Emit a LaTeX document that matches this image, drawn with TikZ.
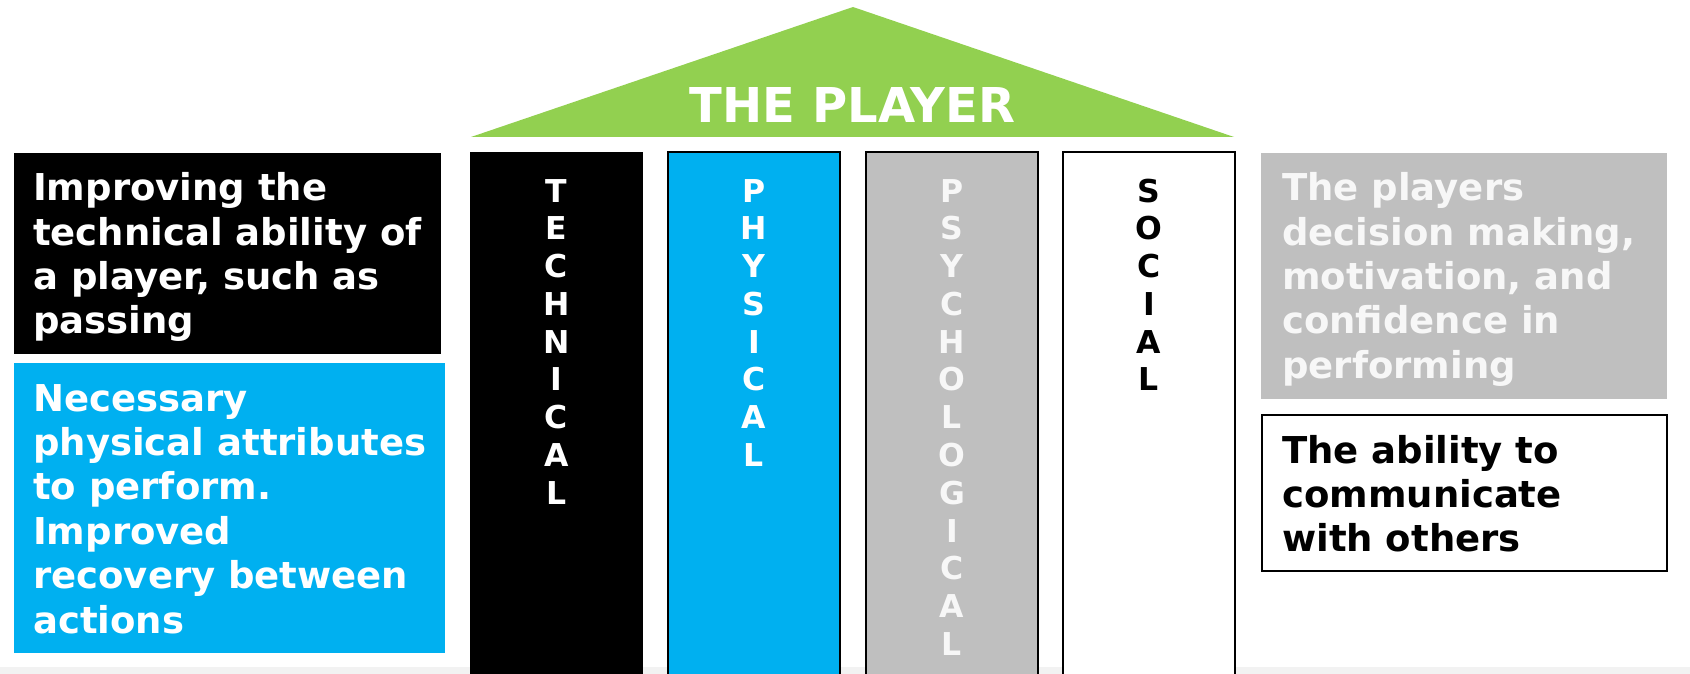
\documentclass[tikz,border=0pt]{standalone}
\usepackage{fontspec}
\setmainfont{DejaVu Sans}
\definecolor{roofgreen}{HTML}{92D050}
\definecolor{skyblue}{HTML}{00B0F0}
\definecolor{midgray}{HTML}{BFBFBF}
\definecolor{stripgray}{HTML}{F2F2F2}
\definecolor{softwhite}{HTML}{F7F7F7}
\begin{document}
\begin{tikzpicture}[x=1pt,y=-1pt,
  pillar/.style={draw=black, line width=1.5pt},
  desc/.style={anchor=base west, inner sep=0pt, font=\bfseries\fontsize{37}{44.4}\selectfont},
  letters/.style={anchor=base, inner sep=0pt, font=\bfseries\fontsize{31.5}{37.8}\selectfont},
]
\useasboundingbox (0,0) rectangle (1690,674);
% bottom strip
\fill[stripgray] (0,667) rectangle (1690,674);
% roof
\fill[roofgreen] (471,137) -- (853,7) -- (1234,137) -- cycle;
\node[inner sep=0pt, anchor=base, text=white, font=\bfseries\fontsize{48}{48}\selectfont] (title) at (852.5,123) {THE PLAYER};
% pillars
\fill[black] (470,152) rectangle (643,680);
\filldraw[pillar, fill=skyblue] (668,152) rectangle (840,680);
\filldraw[pillar, fill=midgray] (866,152) rectangle (1038,680);
\filldraw[pillar, fill=white] (1063,152) rectangle (1235,680);
\node[letters, text=white] (tech) at (556.5,202) {\parbox[t]{40pt}{\centering T\\E\\C\\H\\N\\I\\C\\A\\L}};
\node[letters, text=white] (phys) at (754,202) {\parbox[t]{40pt}{\centering P\\H\\Y\\S\\I\\C\\A\\L}};
\node[letters, text=softwhite] (psych) at (952,202) {\parbox[t]{40pt}{\centering P\\S\\Y\\C\\H\\O\\L\\O\\G\\I\\C\\A\\L}};
\node[letters, text=black] (soc) at (1149,202) {\parbox[t]{40pt}{\centering S\\O\\C\\I\\A\\L}};
% description boxes
\fill[black] (14,153) rectangle (441,354);
\fill[skyblue] (14,363) rectangle (445,653);
\fill[midgray] (1261,153) rectangle (1667,399);
\draw[black, line width=1.5pt] (1262,415) rectangle (1667,571);
\node[desc, text=white] (dtech) at (33,200.7) {\parbox[t]{420pt}{\raggedright Improving the\\technical ability of\\a player, such as\\passing}};
\node[desc, text=white] (dphys) at (33,411) {\parbox[t]{420pt}{\raggedright Necessary\\physical attributes\\to perform.\\Improved\\recovery between\\actions}};
\node[desc, text=softwhite] (dpsych) at (1282,200.7) {\parbox[t]{400pt}{\raggedright The players\\decision making,\\motivation, and\\confidence in\\performing}};
\node[desc, text=black] (dsoc) at (1282,463) {\parbox[t]{400pt}{\raggedright The ability to\\communicate\\with others}};
\end{tikzpicture}
\end{document}
